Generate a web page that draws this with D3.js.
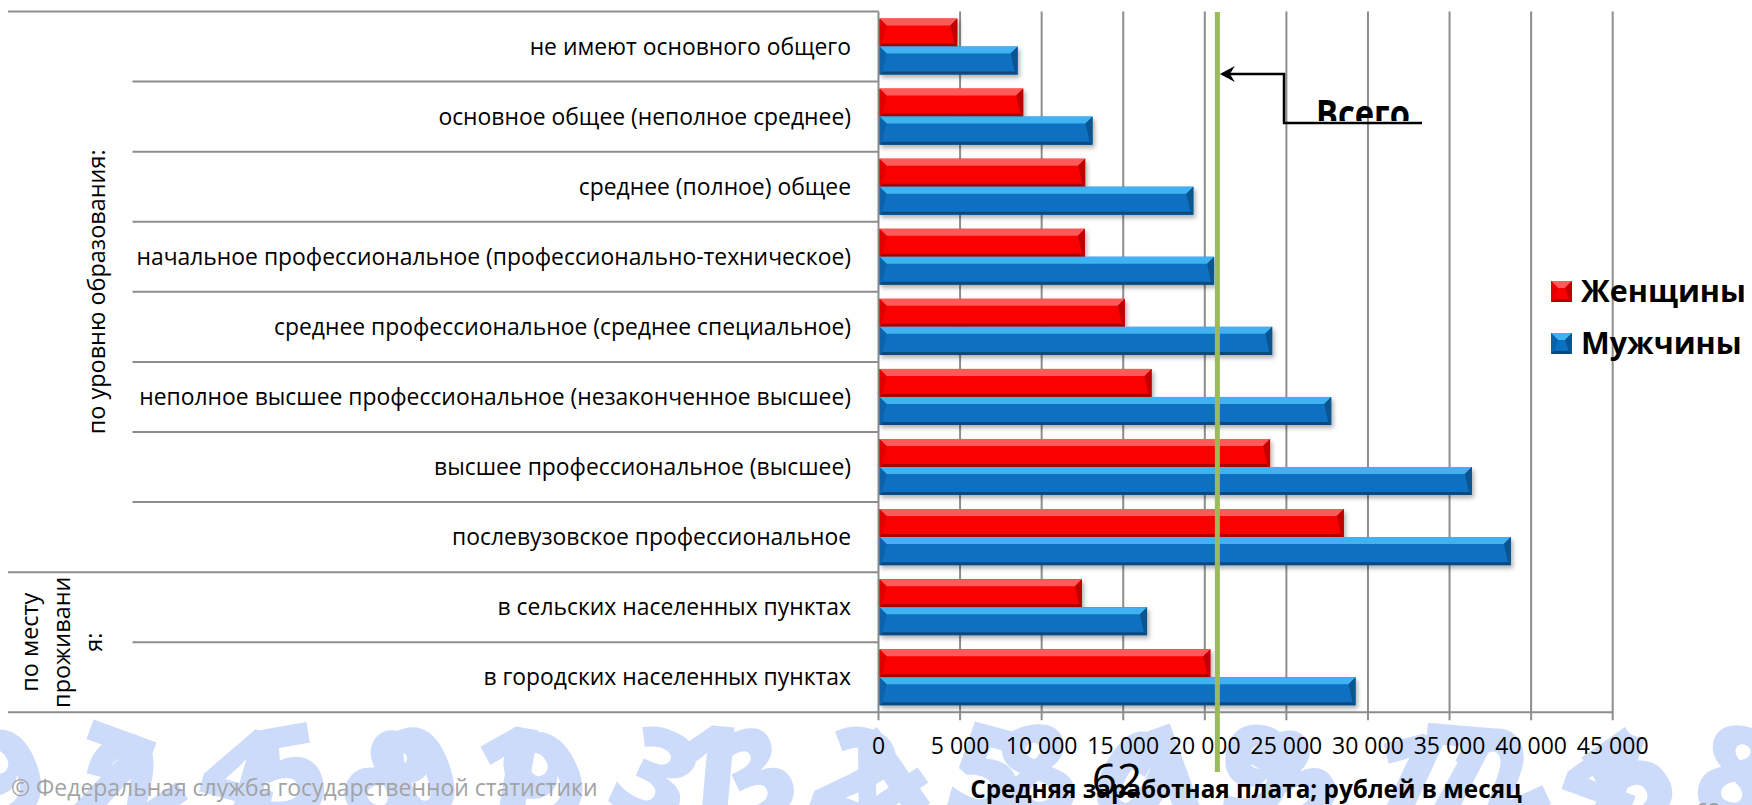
<!DOCTYPE html>
<html>
<head>
<meta charset="utf-8"/>
<style>
  body { margin: 0; background: #fff; }
  svg { display: block; font-family: "Open Sans", sans-serif; }
</style>
</head>
<body>
<svg id="chart"></svg>
<script src="https://cdn.jsdelivr.net/npm/d3@7/dist/d3.min.js"></script>
<script>
// Data (rubles per month)
var categories = [
  "не имеют основного общего",
  "основное общее (неполное среднее)",
  "среднее (полное) общее",
  "начальное профессиональное (профессионально-техническое)",
  "среднее профессиональное (среднее специальное)",
  "неполное высшее профессиональное (незаконченное высшее)",
  "высшее профессиональное (высшее)",
  "послевузовское профессиональное",
  "в сельских населенных пунктах",
  "в городских населенных пунктах"
];
var women = [4830, 8870, 12670, 12650, 15100, 16740, 24000, 28520, 12470, 20340];
var men = [8530, 13120, 19300, 20570, 24130, 27750, 36370, 38760, 16460, 29240];
var seriesNames = ["Женщины", "Мужчины"];
var groupLabels = [["по уровню образования:"], ["по месту", "проживани", "я:"]];
var groupSizes = [8, 2];
var totalValue = 20770;
var xTicks = [0, 5000, 10000, 15000, 20000, 25000, 30000, 35000, 40000, 45000];
var axisTitle = "Средняя заработная плата; рублей в месяц";
var annotation = "Всего";
var pageNumber = "62";
var copyright = "© Федеральная служба государственной статистики";
var watermarkDigits = "97245801931324580193172458";

var W = 1752, H = 805;
var svg = d3.select('#chart').attr('width', W).attr('height', H);

var plot = { left: 878.5, right: 1612.7, top: 11.5, bottom: 712.3 };
var gridColor = '#8d8d8d';

var x = d3.scaleLinear().domain([0, 45000]).range([plot.left, plot.right]);
var y = d3.scaleBand().domain(categories).range([plot.top, plot.bottom]).paddingInner(0.2).paddingOuter(0.1);
var ySub = d3.scaleBand().domain(seriesNames).range([0, y.bandwidth()]);

var fmt = d3.formatLocale({ decimal: ",", thousands: " ", grouping: [3], currency: ["", ""] }).format(",d");

var palette = {
  "Женщины": { base: '#fb0000', top: '#ff5a5a', bottom: '#a80000', left: '#e00000', right: '#c00000' },
  "Мужчины": { base: '#0b70c1', top: '#3fb2f2', bottom: '#07487e', left: '#0a62aa', right: '#07548f' }
};

// drop shadow for the bars
var defs = svg.append('defs');
var f = defs.append('filter').attr('id', 'shadow').attr('x', '-5%').attr('y', '-30%').attr('width', '115%').attr('height', '180%');
f.append('feDropShadow').attr('dx', 2).attr('dy', 3).attr('stdDeviation', 2)
  .attr('flood-color', '#000').attr('flood-opacity', 0.3);
defs.append('clipPath').attr('id', 'annClip').append('rect')
  .attr('x', 1200).attr('y', 0).attr('width', 400).attr('height', 121);

// background watermark digits
var wmTilt = [-25, 20, -35, 15, -10, 30, -20, 10, -30, 25, 5];
var wm = svg.append('g').attr('fill', '#cddbfb').attr('font-weight', 800).attr('font-size', 130);
watermarkDigits.split('').forEach(function(dg, i) {
  var cx = 25 + i * 68;
  wm.append('text')
    .attr('transform', 'translate(' + cx + ',818) rotate(' + wmTilt[i % wmTilt.length] + ')')
    .attr('text-anchor', 'middle')
    .text(dg);
});

// row separator lines (label area)
var step = y.step();
var sepG = svg.append('g').attr('stroke', gridColor).attr('stroke-width', 2);
var groupStarts = [0];
groupSizes.forEach(function(s, i) { groupStarts.push(groupStarts[i] + s); });
for (var i = 0; i <= categories.length; i++) {
  var yy = plot.top + i * step;
  var outer = groupStarts.indexOf(i) >= 0;
  sepG.append('line')
    .attr('x1', outer ? 8 : 132.5).attr('x2', plot.left)
    .attr('y1', yy).attr('y2', yy);
}

// vertical gridlines and ticks
var gridG = svg.append('g').attr('stroke', gridColor).attr('stroke-width', 2);
xTicks.forEach(function(t) {
  gridG.append('line')
    .attr('x1', x(t)).attr('x2', x(t))
    .attr('y1', plot.top).attr('y2', plot.bottom + 8);
});
gridG.append('line').attr('x1', plot.left).attr('x2', plot.right)
  .attr('y1', plot.bottom).attr('y2', plot.bottom);

// tick labels
var tickG = svg.append('g').attr('font-size', 23).attr('fill', '#000').attr('text-anchor', 'middle');
xTicks.forEach(function(t) {
  tickG.append('text').attr('x', x(t)).attr('y', 754).text(fmt(t));
});

// category labels, sized so the longest one matches the picture
var labG = svg.append('g').attr('font-size', 24).attr('fill', '#000').attr('text-anchor', 'end');
var labs = labG.selectAll('text').data(categories).join('text')
  .attr('x', 851)
  .attr('y', function(d) { return y(d) + y.bandwidth() / 2; })
  .attr('dy', '0.35em')
  .text(function(d) { return d; });
var longest = d3.max(labs.nodes(), function(n) { return n.getComputedTextLength(); });
labG.attr('font-size', 24 * 715 / longest);

// group labels (rotated)
var grpG = svg.append('g').attr('fill', '#000').attr('text-anchor', 'middle');
groupLabels.forEach(function(lines, gi) {
  var y0 = plot.top + groupStarts[gi] * step;
  var y1 = plot.top + groupStarts[gi + 1] * step;
  var cx = gi === 0 ? 97 : 62;
  var t = grpG.append('text')
    .attr('transform', 'translate(' + cx + ',' + (y0 + y1) / 2 + ') rotate(-90)')
    .attr('font-size', 24);
  lines.forEach(function(l, li) {
    t.append('tspan').attr('x', 0)
      .attr('y', (li - (lines.length - 1) / 2) * 32)
      .attr('dy', '0.35em')
      .text(l);
  });
});
var g0 = grpG.select('text').node();
grpG.selectAll('text').attr('font-size', 24 * 285 / g0.getComputedTextLength());

// beveled bar
function bevelBar(g, x0, y0, w, h, c) {
  var b = Math.min(7, w / 2), bb = 3;
  var bar = g.append('g');
  bar.append('rect').attr('x', x0).attr('y', y0).attr('width', w).attr('height', h).attr('fill', c.base);
  bar.append('polygon').attr('fill', c.top)
    .attr('points', [[x0, y0], [x0 + w, y0], [x0 + w - b, y0 + b], [x0 + b, y0 + b]].join(' '));
  bar.append('polygon').attr('fill', c.bottom)
    .attr('points', [[x0, y0 + h], [x0 + w, y0 + h], [x0 + w - bb, y0 + h - bb], [x0 + bb, y0 + h - bb]].join(' '));
  bar.append('polygon').attr('fill', c.left)
    .attr('points', [[x0, y0], [x0 + b, y0 + b], [x0 + bb, y0 + h - bb], [x0, y0 + h]].join(' '));
  bar.append('polygon').attr('fill', c.right)
    .attr('points', [[x0 + w, y0], [x0 + w - b, y0 + b], [x0 + w - bb, y0 + h - bb], [x0 + w, y0 + h]].join(' '));
  return bar;
}

// bars
var barsG = svg.append('g').attr('filter', 'url(#shadow)');
var seriesValues = [women, men];
categories.forEach(function(cat, i) {
  seriesNames.forEach(function(s, si) {
    var v = seriesValues[si][i];
    bevelBar(barsG, x(0) + 1, y(cat) + ySub(s), x(v) - x(0) - 1, ySub.bandwidth(), palette[s]);
  });
});

// legend
var legG = svg.append('g');
seriesNames.forEach(function(s, si) {
  var ly = 281 + si * 52;
  bevelBar(legG, 1551, ly, 21, 21, palette[s]);
  legG.append('text').attr('x', 1581).attr('y', ly + 10.5).attr('dy', '0.35em')
    .attr('font-weight', 700).attr('font-size', 28).attr('class', 'legtext').text(s);
});
var lt = legG.select('.legtext').node();
legG.selectAll('.legtext').attr('font-size', 28 * 165 / lt.getComputedTextLength());

// total line
svg.append('line')
  .attr('x1', x(totalValue)).attr('x2', x(totalValue))
  .attr('y1', 12).attr('y2', 772)
  .attr('stroke', '#9bbb59').attr('stroke-width', 5);

// annotation with arrow
var tip = x(totalValue) + 2.5;
svg.append('path')
  .attr('d', 'M1422,123H1284V74H' + (tip + 8))
  .attr('fill', 'none').attr('stroke', '#000').attr('stroke-width', 2.5);
svg.append('path')
  .attr('d', 'M' + tip + ',74 L' + (tip + 15) + ',66 L' + (tip + 10) + ',74 L' + (tip + 15) + ',82 Z')
  .attr('fill', '#000');
svg.append('text').attr('clip-path', 'url(#annClip)')
  .attr('x', 1316).attr('y', 128).attr('font-weight', 700).attr('font-size', 40)
  .attr('textLength', 94).attr('lengthAdjust', 'spacingAndGlyphs')
  .text(annotation);

// axis title
var at = svg.append('text').attr('x', 1246).attr('y', 798).attr('text-anchor', 'middle')
  .attr('font-weight', 700).attr('font-size', 22).text(axisTitle);
at.attr('font-size', 22 * 552 / at.node().getComputedTextLength());

// page number over the title
svg.append('text').attr('x', 1117).attr('y', 795).attr('text-anchor', 'middle')
  .attr('font-size', 44).attr('fill', '#000').text(pageNumber);
svg.append('text').attr('x', 1708).attr('y', 819).attr('text-anchor', 'middle')
  .attr('font-size', 22).attr('fill', '#9a9a9a').text(pageNumber);

// copyright
var cp = svg.append('text').attr('x', 11).attr('y', 796)
  .attr('font-size', 22).attr('fill', '#a3a3a3').text(copyright);
cp.attr('font-size', 22 * 587 / cp.node().getComputedTextLength());
</script>
</body>
</html>
